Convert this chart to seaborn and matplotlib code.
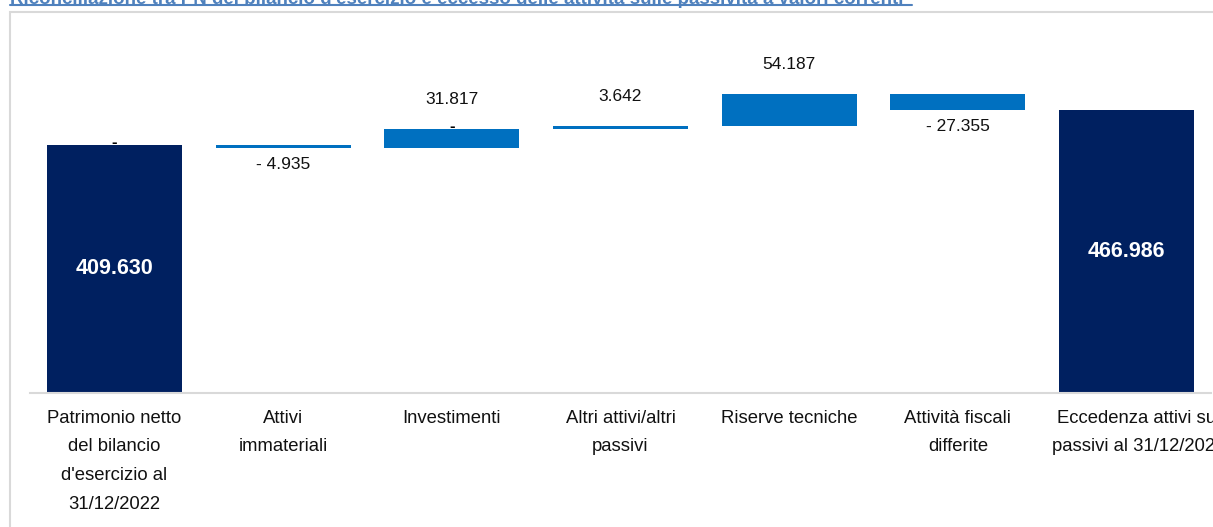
import matplotlib.pyplot as plt
from matplotlib.lines import Line2D
from matplotlib.patches import Rectangle
import matplotlib.transforms as mtransforms
import numpy as np
import pandas as pd
import seaborn as sns

# valori in migliaia di euro
categories = [
    "Patrimonio netto\ndel bilancio\nd'esercizio al\n31/12/2022",
    "Attivi\nimmateriali",
    "Investimenti",
    "Altri attivi/altri\npassivi",
    "Riserve tecniche",
    "Attività fiscali\ndifferite",
    "Eccedenza attivi sui\npassivi al 31/12/2022",
]
values = [409630, -4935, 31817, 3642, 54187, -27355, 466986]
is_total = [True, False, False, False, False, False, True]
zero_marks = ["-", "", "-", "", "", "", ""]

title = "Riconciliazione tra PN del bilancio d'esercizio e eccesso delle attività sulle passività a valori correnti"

NAVY = '#002060'
BLUE = '#0070C0'

# waterfall: base invisibile + barra visibile (come in Excel)
start, end = [], []
running = 0
for v, tot in zip(values, is_total):
    if tot:
        start.append(0)
        end.append(v)
        running = v
    else:
        start.append(running)
        running += v
        end.append(running)
start = np.array(start) / 1000
end = np.array(end) / 1000

df = pd.DataFrame({
    'categoria': categories,
    'top': np.maximum(start, end),
    'base': np.where(is_total, 0, np.minimum(start, end)),
})
colors = [NAVY if t else BLUE for t in is_total]

sns.set_theme(style='white')
plt.rcParams['font.family'] = ['Liberation Sans', 'DejaVu Sans']

fig = plt.figure(figsize=(12.13, 5.27), dpi=100)
ax = fig.add_axes([30 / 1213, 134 / 527, 1181 / 1213, 381 / 527])

sns.barplot(data=df, x='categoria', y='top', hue='categoria', palette=colors,
            width=0.8, saturation=1, linewidth=0, legend=False, ax=ax)
sns.barplot(data=df, x='categoria', y='base', color='white',
            width=0.8, saturation=1, linewidth=0, ax=ax)

ax.set_xlim(-0.5, 6.5)
ax.set_ylim(0, 629)
ax.set_xlabel('')
ax.set_ylabel('')
ax.set_yticks([])
ax.tick_params(axis='x', length=0, pad=12)
ax.set_xticks(range(len(categories)))
ax.set_xticklabels(categories, fontsize=13.3, color='#111111', linespacing=1.9)
# l'ultima etichetta in Excel è spostata un po' a destra
last = ax.get_xticklabels()[-1]
last.set_transform(last.get_transform() +
                   mtransforms.ScaledTranslation(12 / 100, 0, fig.dpi_scale_trans))
for s in ['top', 'left', 'right']:
    ax.spines[s].set_visible(False)
ax.spines['bottom'].set_color('#d9d9d9')
ax.spines['bottom'].set_linewidth(1.5)

# etichette
for i, v in enumerate(values):
    lbl = f"{abs(v):,}".replace(",", ".")
    if is_total[i]:
        ax.text(i, df['top'][i] / 2, lbl, ha='center', va='center',
                color='white', fontsize=15.5, fontweight='bold')
    elif v > 0:
        ax.annotate(lbl, (i, df['top'][i]), xytext=(0, 22), textcoords='offset pixels',
                    ha='center', va='bottom', fontsize=12.5, color='#111111')
    else:
        ax.annotate("- " + lbl, (i, df['base'][i]), xytext=(0, -9), textcoords='offset pixels',
                    ha='center', va='top', fontsize=12.5, color='#111111')
    if zero_marks[i]:
        ax.annotate(zero_marks[i], (i, df['top'][i]), xytext=(0, -5), textcoords='offset pixels',
                    ha='center', va='bottom', fontsize=12, fontweight='bold', color='black')

# cornice dell'area grafico e titolo tagliato in alto
fig.patches.append(Rectangle((10 / 1213, -0.1), 1.2, 1.1 - 12 / 527,
                             transform=fig.transFigure, fill=False,
                             edgecolor='#d9d9d9', linewidth=1.5, zorder=0))
fig.text(10 / 1213, 1 - 3.5 / 527, title, ha='left', va='baseline',
         fontsize=13.5, fontweight='bold', color='#4F81BD')
fig.lines.append(Line2D([10 / 1213, 912 / 1213], [1 - 5 / 527, 1 - 5 / 527],
                        transform=fig.transFigure, color='#4F81BD', linewidth=1.5))

fig.savefig('out.png', dpi=100)
